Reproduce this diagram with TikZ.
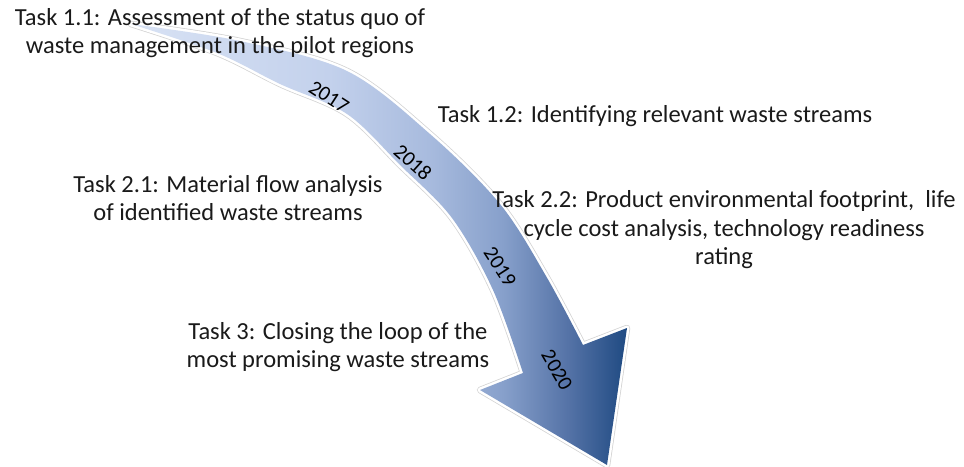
\documentclass[tikz,border=0pt]{standalone}
\usepackage{fontspec}
\setmainfont{Carlito}
\usetikzlibrary{calc}

\definecolor{tl0}{HTML}{D8E2F4}
\definecolor{tl1}{HTML}{C3D1EC}
\definecolor{tl2}{HTML}{A8BBDE}
\definecolor{tl3}{HTML}{87A0CB}
\definecolor{tl4}{HTML}{5573A7}
\definecolor{tl5}{HTML}{1F4A82}
\definecolor{textcol}{HTML}{1A1A1A}

% light-to-dark blue fill for the timeline arrow (left to right);
% the path's bounding box spans 25bp..75bp of the shading
\pgfdeclarehorizontalshading{timeshade}{100bp}{%
  color(0bp)=(tl0); color(25bp)=(tl0); color(45bp)=(tl1); color(55bp)=(tl2);
  color(62.5bp)=(tl3); color(69bp)=(tl4); color(75bp)=(tl5); color(100bp)=(tl5)}

\tikzset{
  task/.style={align=center, text=textcol, inner sep=0pt,
    font=\fontsize{24.5}{28.5}\selectfont},
  year/.style={text=black, inner sep=0pt, font=\fontsize{21}{24}\selectfont},
}

\begin{document}
\begin{tikzpicture}[x=1pt,y=-1pt]
\useasboundingbox (0,0) rectangle (964,466);

% outline of the curved timeline arrow
\def\arrowpath{
  plot[smooth, tension=0.55] coordinates {(131,24) (240,41) (347,71) (430,134) (500,204) (546,276) (583,345)}
  -- (627,328) -- (607,465) -- (480,390) -- (523,373)
  -- plot[smooth, tension=0.55] coordinates {(523,373) (493,290) (452,218) (400,165) (347,114) (280,84) (217,53) (131,24)}
  -- cycle}

\draw[gray!35, line width=6.5pt, line join=round] \arrowpath;
\draw[white, line width=5pt, line join=round] \arrowpath;
\shade[shading=timeshade] \arrowpath;

\coordinate (y17) at (329,97);
\coordinate (y18) at (413,162);
\coordinate (y19) at (500,267);
\coordinate (y20) at (557,370);
\node[year, rotate=-33] (n17) at (y17) {2017};
\node[year, rotate=-42] (n18) at (y18) {2018};
\node[year, rotate=-57] (n19) at (y19) {2019};
\node[year, rotate=-60] (n20) at (y20) {2020};

\node[task] (t11) at (220,33) {Task 1.1: Assessment of the status quo of\\waste management in the pilot regions};
\node[task] (t12) at (655,116) {Task 1.2: Identifying relevant waste streams};
\node[task] (t21) at (228,198) {Task 2.1: Material flow analysis\\of identified waste streams};
\node[task] (t22) at (724,230) {Task 2.2: Product environmental footprint,\ \ life\\cycle cost analysis, technology readiness\\rating};
\node[task] (t3) at (338,347) {Task 3: Closing the loop of the\\most promising waste streams};
\end{tikzpicture}
\end{document}
